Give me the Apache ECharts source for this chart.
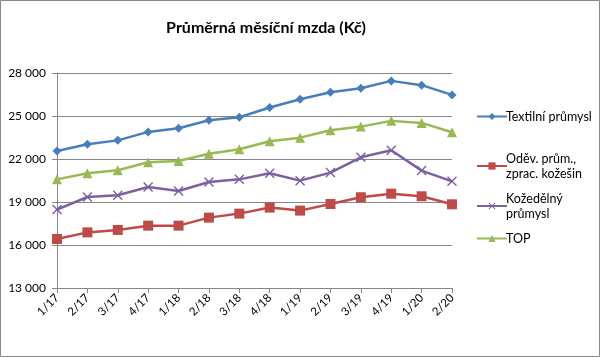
<!DOCTYPE html>
<html><head><meta charset="utf-8">
<script src="https://cdn.jsdelivr.net/npm/echarts@6/dist/echarts.min.js"></script>
<style>html,body{margin:0;padding:0;background:#fff}#c{width:600px;height:357px}</style>
</head><body><div id="c"></div>
<script>
const categories = ['1/17','2/17','3/17','4/17','1/18','2/18','3/18','4/18','1/19','2/19','3/19','4/19','1/20','2/20'];
const textil = [22560,23030,23300,23890,24140,24700,24910,25590,26170,26660,26940,27450,27150,26470];
const odev = [16420,16880,17050,17350,17350,17910,18190,18610,18400,18860,19330,19580,19400,18840];
const koze = [18470,19350,19470,20050,19770,20400,20580,21000,20490,21050,22120,22610,21190,20440];
const top_ = [20580,21000,21210,21770,21860,22370,22680,23240,23490,24000,24260,24660,24520,23870];
const seriesNames = ['Textilní průmysl','Oděv. prům.,\nzprac. kožešin','Kožedělný\nprůmysl','TOP'];
const yTicks = {min:13000,max:28000,interval:3000};

const colors = ['#4A7EBB','#BE4B48','#7D60A0','#98B954'];
const xPath = 'path://M0,1L1,0L5,4L9,0L10,1L6,5L10,9L9,10L5,6L1,10L0,9L4,5Z';
const symbols = ['diamond','rect',xPath,'triangle'];
const sizes = [9,10,10,10];
const datas = [textil,odev,koze,top_];
const font = 'Lato, "Open Sans", sans-serif';

const chart = echarts.init(document.getElementById('c'));
const legendTops = [104,146,186,226];
chart.setOption({
  animation:false,
  title:{text:'Průměrná měsíční mzda (Kč)',left:261,top:15,textAlign:'center',
    textStyle:{fontFamily:font,fontSize:16,fontWeight:'bold',color:'#000'}},
  graphic:[{type:'rect',shape:{x:0.5,y:0.5,width:599,height:356},style:{fill:'none',stroke:'#888',lineWidth:1},silent:true}],
  legend: seriesNames.map((n,i)=>({data:[n],left:471,top:legendTops[i],orient:'vertical',
    itemWidth:30,itemHeight:9,itemGap:0,
    textStyle:{fontFamily:font,fontSize:12.5,color:'#000',lineHeight:15,padding:[0,0,0,-6]}})),
  grid:{left:57,right:148,top:73,bottom:69},
  xAxis:{type:'category',data:categories,boundaryGap:false,
    axisLine:{lineStyle:{color:'#868686'}},
    axisTick:{alignWithLabel:true,length:5,lineStyle:{color:'#868686'}},
    axisLabel:{rotate:45,fontFamily:font,fontSize:11.5,color:'#000',margin:8,interval:0}},
  yAxis:{type:'value',min:yTicks.min,max:yTicks.max,interval:yTicks.interval,
    axisLine:{show:true,lineStyle:{color:'#868686'}},
    axisTick:{show:true,length:5,lineStyle:{color:'#868686'}},
    splitLine:{lineStyle:{color:'#868686'}},
    axisLabel:{fontFamily:font,fontSize:12,color:'#000',margin:11,
      formatter:v=>String(v).replace(/\B(?=(\d{3})+(?!\d))/g,' ')}},
  series: seriesNames.map((n,i)=>({name:n,type:'line',data:datas[i],
    symbol:symbols[i],symbolSize:sizes[i],showAllSymbol:true,
    lineStyle:{color:colors[i],width:2.5},
    itemStyle:{color:colors[i],borderColor:colors[i],borderWidth:0},
    z: i===0?5:(i===3?4:3)}))
});
</script></body></html>
